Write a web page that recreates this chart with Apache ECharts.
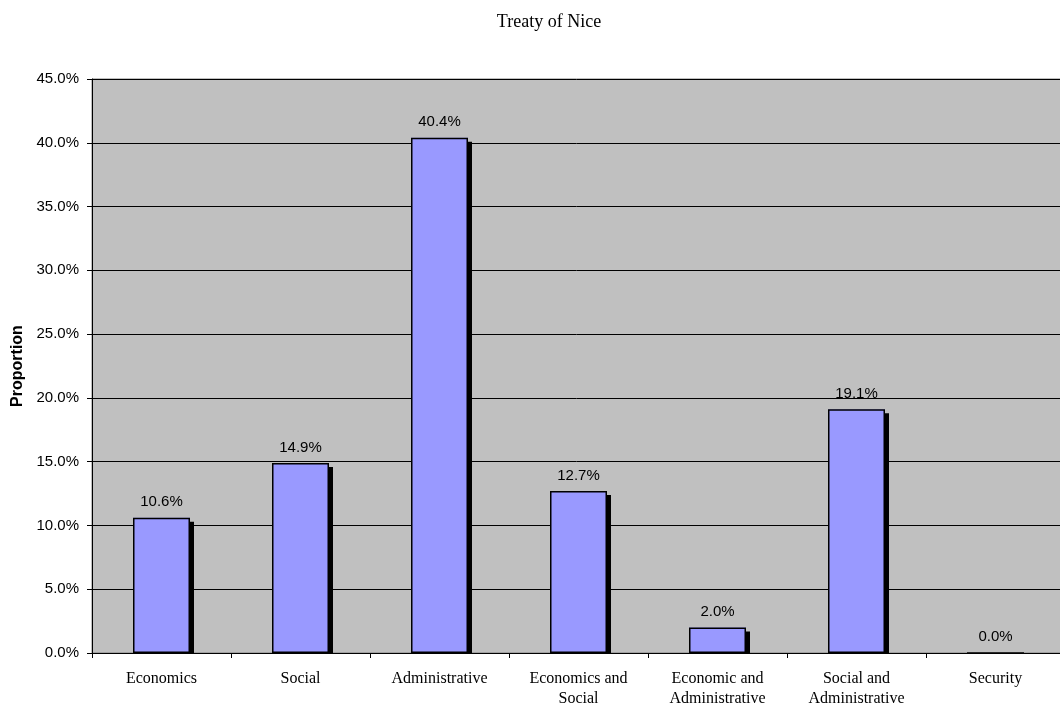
<!DOCTYPE html>
<html>
<head>
<meta charset="utf-8">
<script src="https://cdn.jsdelivr.net/npm/echarts@6/dist/echarts.min.js"></script>
<style>
  html, body { margin: 0; padding: 0; background: #fff; }
  #chart { width: 1060px; height: 705px; }
</style>
</head>
<body>
<div id="chart"></div>
<script>
// Share of provisions by policy area (percent)
const categories = [
  'Economics',
  'Social',
  'Administrative',
  'Economics and\nSocial',
  'Economic and\nAdministrative',
  'Social and\nAdministrative',
  'Security'
];
const proportions = [10.6, 14.9, 40.4, 12.7, 2.0, 19.1, 0.0];
const titleText = 'Treaty of Nice';
const yAxisName = 'Proportion';

const SANS = '"Liberation Sans", Arial, sans-serif';
const SERIF = '"Liberation Serif", "Times New Roman", serif';
const pct = v => v.toFixed(1) + '%';

const chart = echarts.init(document.getElementById('chart'));
chart.setOption({
  animation: false,
  backgroundColor: '#ffffff',
  title: {
    text: titleText,
    left: 544,
    top: 8,
    textAlign: 'center',
    textStyle: { fontFamily: SERIF, fontSize: 18, fontWeight: 'normal', color: '#000' }
  },
  grid: {
    left: 92, top: 79, width: 973, height: 574,
    outerBoundsMode: 'none',
    containLabel: false,
    show: true, backgroundColor: '#c0c0c0', borderColor: '#808080', borderWidth: 1
  },
  xAxis: {
    type: 'category',
    data: categories,
    z: 10,
    axisLine: { show: true, lineStyle: { color: '#000', width: 1 } },
    axisTick: { show: true, length: 5, lineStyle: { color: '#000' } },
    axisLabel: {
      fontFamily: SERIF, fontSize: 16, color: '#000', margin: 16,
      lineHeight: 20, interval: 0
    },
    splitLine: { show: false }
  },
  yAxis: {
    type: 'value',
    min: 0, max: 45, interval: 5,
    name: yAxisName,
    nameLocation: 'middle',
    nameGap: 66,
    nameTextStyle: { fontFamily: SANS, fontSize: 16, fontWeight: 'bold', color: '#000' },
    axisLine: { show: true, lineStyle: { color: '#000', width: 1 } },
    axisTick: { show: true, length: 5, lineStyle: { color: '#000' } },
    axisLabel: {
      fontFamily: SANS, fontSize: 15, color: '#000', margin: 13,
      formatter: pct
    },
    splitLine: { show: true, lineStyle: { color: '#000', width: 1 } }
  },
  series: [
    {
      // filled bars with a hard drop shadow
      type: 'bar',
      data: proportions,
      barWidth: 57,
      z: 2,
      itemStyle: {
        color: '#9999ff',
        borderWidth: 0,
        shadowColor: '#000',
        shadowBlur: 0,
        shadowOffsetX: 4,
        shadowOffsetY: 4
      }
    },
    {
      // outlines and value labels on top of the filled bars
      type: 'bar',
      data: proportions,
      barWidth: 57,
      barGap: '-100%',
      z: 3,
      itemStyle: {
        color: 'rgba(0,0,0,0)',
        borderColor: '#000',
        borderWidth: 1.5
      },
      label: {
        show: true,
        position: 'top',
        distance: 8,
        fontFamily: SANS, fontSize: 15, color: '#000',
        formatter: p => pct(p.value)
      }
    }
  ],
  graphic: [{
    // white strip that hides the bar shadows below the baseline
    // (drawn under the x axis so its ticks stay visible)
    type: 'rect',
    left: 93, top: 654,
    shape: { width: 967, height: 5 },
    style: { fill: '#ffffff' },
    z: 5
  }]
});
</script>
</body>
</html>
